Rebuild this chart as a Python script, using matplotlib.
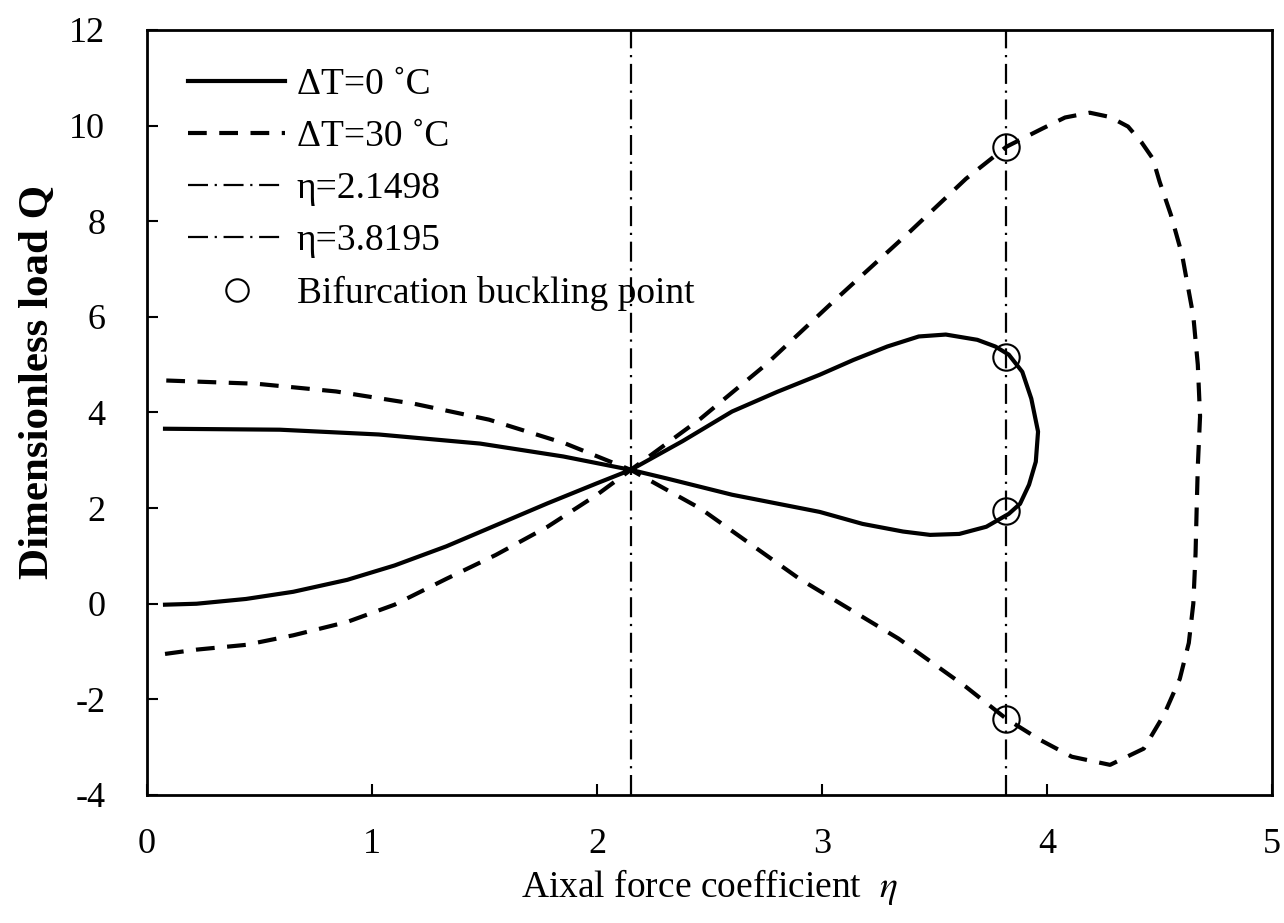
import matplotlib
matplotlib.use("Agg")
import matplotlib.pyplot as plt

plt.rcParams['font.family'] = ['Liberation Serif', 'DejaVu Serif']
plt.rcParams['mathtext.fontset'] = 'stix'
plt.rcParams['axes.unicode_minus'] = False

# curves, each traced as one path (eta, Q)
eta_dt0 = [0.08, 0.22, 0.44, 0.65, 0.89, 1.10, 1.33, 1.55, 1.78, 2.00, 2.15,
           2.38, 2.60, 2.80, 2.99, 3.14, 3.29, 3.43, 3.55, 3.69, 3.77, 3.83,
           3.89, 3.93, 3.96, 3.95, 3.92, 3.88, 3.83, 3.73, 3.61, 3.48, 3.36,
           3.18, 2.99, 2.60, 2.31, 2.15, 2.00, 1.85, 1.48, 1.03, 0.59, 0.08]
q_dt0 = [-0.02, 0.00, 0.10, 0.25, 0.50, 0.80, 1.20, 1.64, 2.10, 2.52, 2.80,
         3.40, 4.02, 4.43, 4.79, 5.10, 5.38, 5.59, 5.63, 5.52, 5.38, 5.21,
         4.85, 4.29, 3.60, 2.97, 2.49, 2.09, 1.88, 1.61, 1.46, 1.44, 1.51,
         1.67, 1.92, 2.28, 2.62, 2.80, 2.94, 3.08, 3.35, 3.54, 3.64, 3.66]

eta_dt30 = [0.08, 0.22, 0.44, 0.65, 0.89, 1.10, 1.33, 1.55, 1.78, 2.00, 2.15,
            2.46, 2.75, 3.05, 3.39, 3.64, 3.82, 3.98, 4.08, 4.19, 4.28, 4.36,
            4.42, 4.47, 4.50, 4.55, 4.60, 4.65, 4.67, 4.68, 4.67, 4.665, 4.66,
            4.65, 4.63, 4.59, 4.52, 4.43, 4.28, 4.11, 3.97, 3.82, 3.64, 3.34,
            2.90, 2.46, 2.15, 2.06, 1.86, 1.52, 1.19, 0.84, 0.49, 0.08]
q_dt30 = [-1.05, -0.96, -0.86, -0.66, -0.38, -0.02, 0.52, 1.02, 1.61, 2.28, 2.80,
          3.87, 5.00, 6.32, 7.78, 8.89, 9.56, 9.94, 10.17, 10.27, 10.18, 9.98,
          9.65, 9.31, 8.83, 8.14, 7.30, 6.02, 5.00, 3.92, 2.87, 2.00, 1.05,
          0.00, -0.82, -1.57, -2.32, -3.03, -3.37, -3.20, -2.85, -2.41, -1.74, -0.73,
          0.52, 1.99, 2.80, 2.97, 3.35, 3.85, 4.18, 4.44, 4.60, 4.67]

eta_lines = [2.1498, 3.8195]
bif_eta = [3.8195, 3.8195, 3.8195, 3.8195]
bif_q = [9.56, 5.16, 1.93, -2.41]

fig = plt.figure(figsize=(12.84, 9.23), dpi=100)
ax = fig.add_axes([0.1145, 0.1387, 0.8762, 0.8288])

ax.plot(eta_dt0, q_dt0, color='black', lw=3, label='ΔT=0 ˚C')
ax.plot(eta_dt30, q_dt30, color='black', lw=3, dashes=(4.5, 3), label='ΔT=30 ˚C')
for e in eta_lines:
    ax.axvline(e, color='black', lw=1.6, dashes=(9, 3, 1, 3), label=f'η={e}')
ax.plot(bif_eta, bif_q, ls='none', marker='o', ms=19, mfc='none', mec='black',
        mew=1.5, label='Bifurcation buckling point')

ax.set_xlim(0, 5)
ax.set_ylim(-4, 12)
ax.set_xticks(range(0, 6))
ax.set_yticks(range(-4, 13, 2))
ax.tick_params(axis='both', direction='in', length=8, width=1.5, labelsize=26)
ax.tick_params(axis='x', pad=24)
ax.tick_params(axis='y', pad=30)
ax.tick_params(top=False, right=False)
for s in ax.spines.values():
    s.set_linewidth(2)

ax.set_xlabel('Aixal force coefficient  $\\eta$', fontsize=27, labelpad=4)
ax.set_ylabel('Dimensionless load Q', fontsize=31, fontweight='bold')
ax.yaxis.set_label_coords(-0.08, 0.54)

ax.legend(loc='upper left', bbox_to_anchor=(0.0364, 0.951), frameon=False,
          fontsize=27, handlelength=2.6, handletextpad=0.3, labelspacing=0.47,
          borderpad=0, borderaxespad=0, markerscale=0.85)

fig.savefig('out.png', dpi=100)
